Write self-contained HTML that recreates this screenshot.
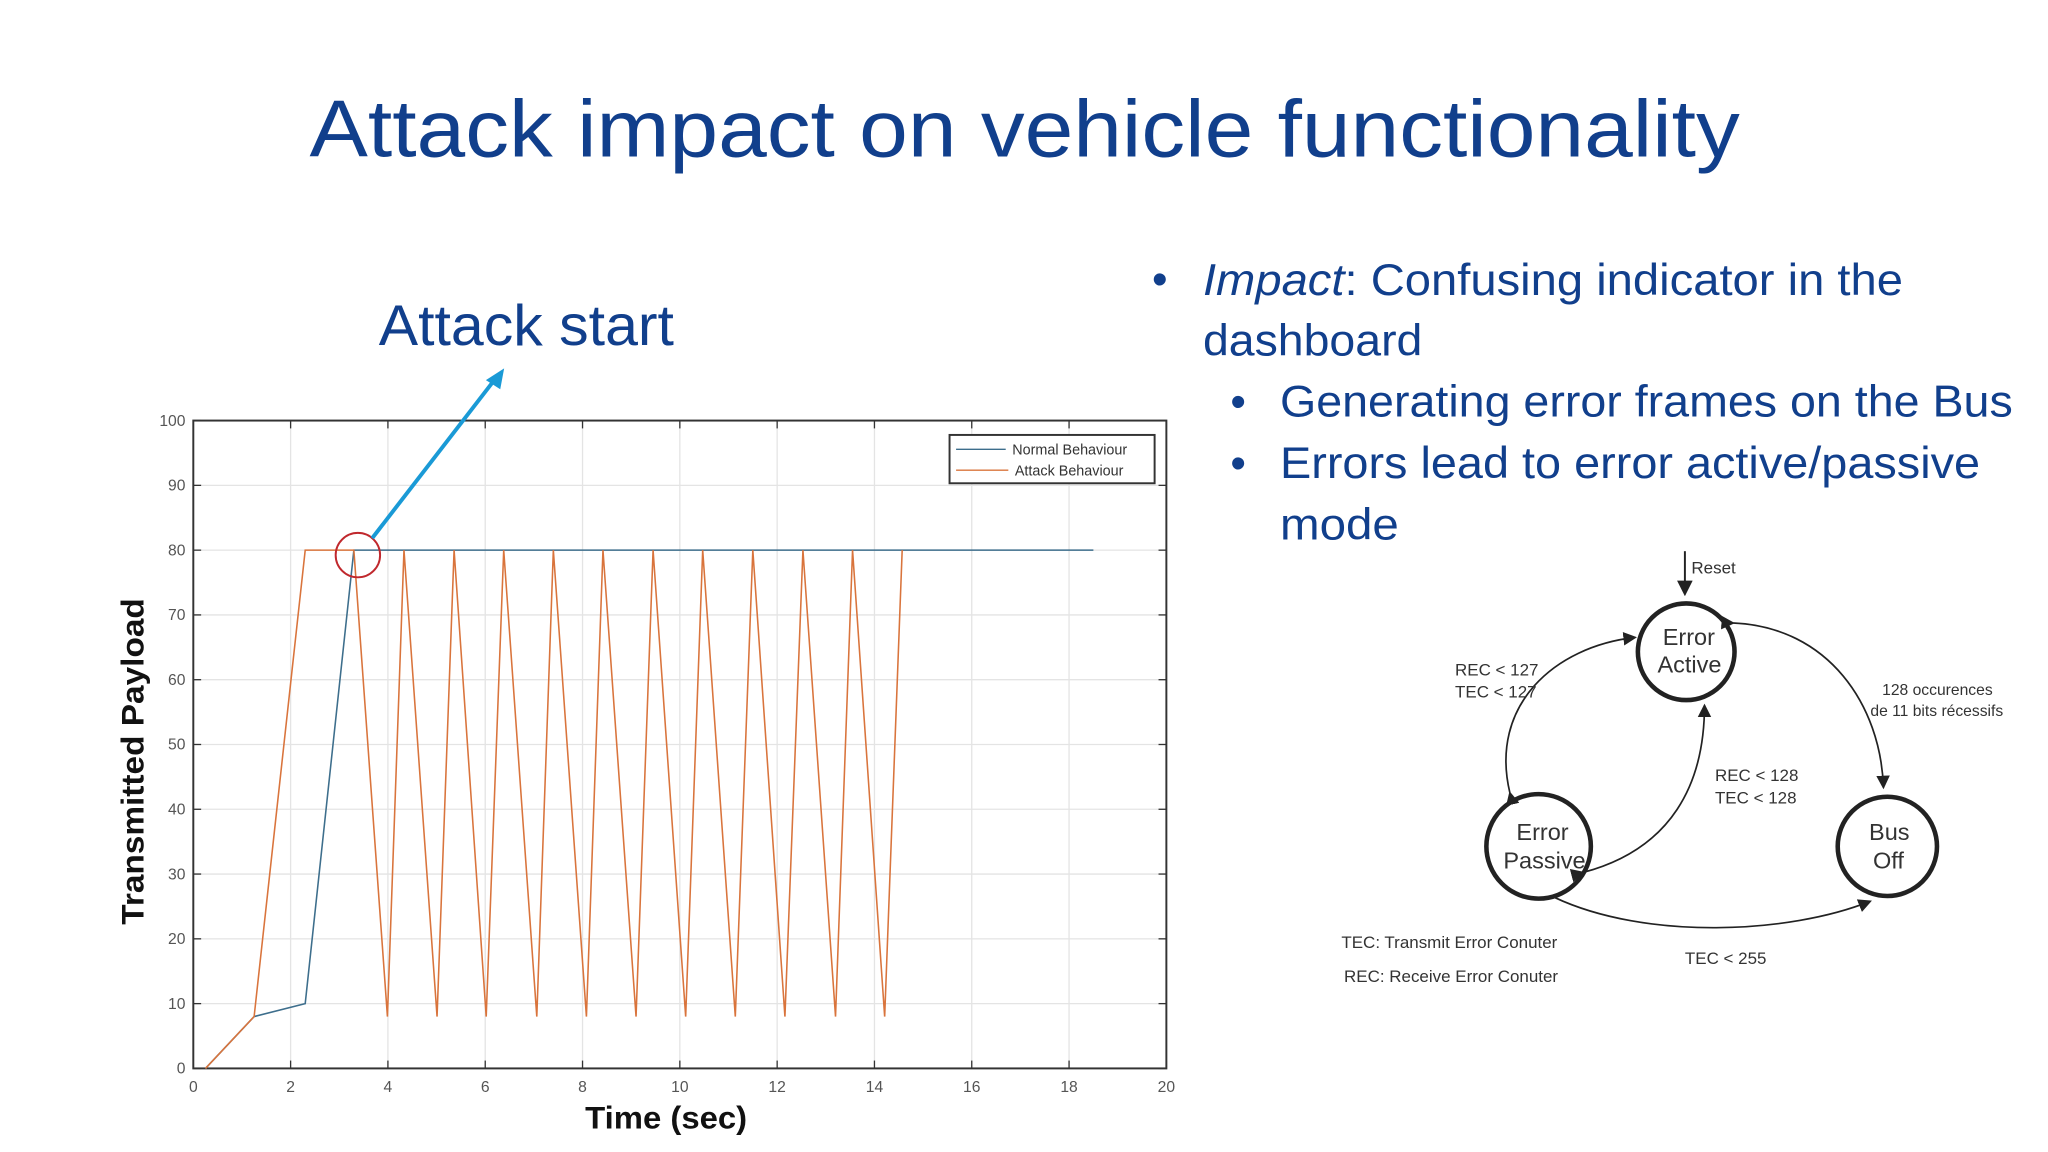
<!DOCTYPE html>
<html><head><meta charset="utf-8"><style>
html,body{margin:0;padding:0;background:#fff;width:2048px;height:1152px;overflow:hidden}
svg{display:block}
text{font-family:"Liberation Sans",sans-serif}
</style></head><body>
<svg id="s" width="2048" height="1152" viewBox="0 0 1568 882" xmlns="http://www.w3.org/2000/svg">
<rect width="1568" height="882" fill="#fff"/>
<text x="237" y="120" font-size="62" fill="#113f8c" textLength="1095" lengthAdjust="spacingAndGlyphs">Attack impact on vehicle functionality</text>
<text x="290" y="264" font-size="44" fill="#113f8c" textLength="226" lengthAdjust="spacingAndGlyphs">Attack start</text>
<g fill="#113f8c" font-size="34">
<text x="882" y="225">•</text>
<text x="921" y="226" textLength="536" lengthAdjust="spacingAndGlyphs"><tspan font-style="italic">Impact</tspan>: Confusing indicator in the</text>
<text x="921" y="272" textLength="168" lengthAdjust="spacingAndGlyphs">dashboard</text>
<text x="942" y="319">•</text>
<text x="980" y="319" textLength="561" lengthAdjust="spacingAndGlyphs">Generating error frames on the Bus</text>
<text x="942" y="366">•</text>
<text x="980" y="366" textLength="536" lengthAdjust="spacingAndGlyphs">Errors lead to error active/passive</text>
<text x="980" y="413" textLength="91" lengthAdjust="spacingAndGlyphs">mode</text>
</g>
<g id="chart"></g>
<g id="diagram" fill="none" stroke="#222">
<defs><marker id="ah" markerWidth="8" markerHeight="8" refX="7" refY="4" orient="auto"><path d="M0,0L8,4L0,8z" fill="#222" stroke="none"/></marker></defs>
<line x1="1290" y1="422" x2="1290" y2="455" stroke-width="1.5" marker-end="url(#ah)"/>
<circle cx="1291" cy="499" r="37" stroke-width="3.5"/>
<circle cx="1178" cy="648" r="40" stroke-width="3.5"/>
<circle cx="1445" cy="648" r="38" stroke-width="3.5"/>
<path d="M1156,607 C1140,540 1190,495 1252,488" stroke-width="1.3" marker-end="url(#ah)" marker-start="url(#ah)"/>
<path d="M1212,668 C1280,650 1305,600 1305,540" stroke-width="1.3" marker-end="url(#ah)" marker-start="url(#ah)"/>
<path d="M1327,477 C1400,480 1440,540 1442,603" stroke-width="1.3" marker-end="url(#ah)" marker-start="url(#ah)"/>
<path d="M1190,687 C1260,720 1370,715 1432,690" stroke-width="1.3" marker-end="url(#ah)"/>
<g fill="#333" stroke="none" font-size="15">
<text x="1273" y="494" font-size="18">Error</text>
<text x="1269" y="515" font-size="18">Active</text>
<text x="1161" y="643" font-size="18">Error</text>
<text x="1151" y="665" font-size="18">Passive</text>
<text x="1431" y="643" font-size="18">Bus</text>
<text x="1434" y="665" font-size="18">Off</text>
<text x="1295" y="439" font-size="13">Reset</text>
<text x="1114" y="517" font-size="13">REC &lt; 127</text>
<text x="1114" y="534" font-size="13">TEC &lt; 127</text>
<text x="1313" y="598" font-size="13">REC &lt; 128</text>
<text x="1313" y="615" font-size="13">TEC &lt; 128</text>
<text x="1441" y="532" font-size="12">128 occurences</text>
<text x="1432" y="548" font-size="12">de 11 bits récessifs</text>
<text x="1290" y="738" font-size="13">TEC &lt; 255</text>
<text x="1027" y="726" font-size="13">TEC: Transmit Error Conuter</text>
<text x="1029" y="752" font-size="13">REC: Receive Error Conuter</text>
</g>
</g>
</svg>
<script>
const xTicks=[0,2,4,6,8,10,12,14,16,18,20];
const yTicks=[0,10,20,30,40,50,60,70,80,90,100];
const normalX=[0.25,1.25,2.3,3.3,18.5];
const normalY=[0,8,10,80,80];
const attackX=[0.25,1.25,2.3,3.3,3.99,4.33,5.01,5.36,6.02,6.38,7.06,7.4,8.08,8.42,9.1,9.45,10.12,10.47,11.14,11.5,12.16,12.53,13.2,13.55,14.21,14.57];
const attackY=[0,8,80,80,8,80,8,80,8,80,8,80,8,80,8,80,8,80,8,80,8,80,8,80,8,80];
const NS="http://www.w3.org/2000/svg";
const L=148,R=893,T=322,B=818;
const sx=v=>L+(v-0)/20*(R-L);
const sy=v=>B-(v-0)/100*(B-T);
const g=document.getElementById('chart');
function mk(tag,at,parent){const e=document.createElementNS(NS,tag);for(const k in at)e.setAttribute(k,at[k]);(parent||g).appendChild(e);return e;}
let e=mk('rect',{x:L,y:T,width:R-L,height:B-T,fill:'#fff',stroke:'none'});


xTicks.forEach(t=>{
 let l=mk('line',{x1:sx(t),x2:sx(t),y1:T,y2:B,stroke:'#e4e4e4','stroke-width':1});
 
 
 mk('line',{x1:sx(t),x2:sx(t),y1:B,y2:B-6,stroke:'#333'});
 mk('line',{x1:sx(t),x2:sx(t),y1:T,y2:T+6,stroke:'#333'});
 let tx=mk('text',{x:sx(t),y:B+18,'font-size':12,fill:'#555','text-anchor':'middle'});
 tx.textContent=t;
 
 
});
yTicks.forEach(t=>{
 let l=mk('line',{x1:L,x2:R,y1:sy(t),y2:sy(t),stroke:'#e4e4e4','stroke-width':1});
 
 
 mk('line',{x1:L,x2:L+6,y1:sy(t),y2:sy(t),stroke:'#333'});
 mk('line',{x1:R,x2:R-6,y1:sy(t),y2:sy(t),stroke:'#333'});
 let tx=mk('text',{x:L-6,y:sy(t)+4,'font-size':12,fill:'#555','text-anchor':'end'});
 tx.textContent=t;
 
 
});
e=mk('rect',{x:L,y:T,width:R-L,height:B-T,fill:'none',stroke:'#333','stroke-width':1.5});


e=mk('polyline',{points:normalX.map((x,i)=>sx(x)+','+sy(normalY[i])).join(' '),fill:'none',stroke:'#3d6e8c','stroke-width':1.2});


e=mk('polyline',{points:attackX.map((x,i)=>sx(x)+','+sy(attackY[i])).join(' '),fill:'none',stroke:'#d9743c','stroke-width':1.2});


e=mk('rect',{x:727,y:333,width:157,height:37,fill:'#fff',stroke:'#333','stroke-width':1.5});


mk('line',{x1:732,x2:770,y1:344,y2:344,stroke:'#3d6e8c'});
mk('line',{x1:732,x2:772,y1:360,y2:360,stroke:'#d9743c'});
e=mk('text',{x:775,y:348,'font-size':11,fill:'#333'});e.textContent='Normal Behaviour';


e=mk('text',{x:777,y:364,'font-size':11,fill:'#333'});e.textContent='Attack Behaviour';


e=mk('text',{x:510,y:864,'font-size':24,'font-weight':'bold',fill:'#111','text-anchor':'middle',textLength:124,lengthAdjust:'spacingAndGlyphs'});e.textContent='Time (sec)';


e=mk('text',{x:0,y:0,'font-size':24,'font-weight':'bold',fill:'#111','text-anchor':'middle',textLength:250,lengthAdjust:'spacingAndGlyphs',transform:'translate(110,583) rotate(-90)'});e.textContent='Transmitted Payload';


e=mk('circle',{cx:274,cy:425,r:17,fill:'none',stroke:'#c0282d','stroke-width':1.5});


e=mk('line',{x1:285,y1:412,x2:380,y2:289,stroke:'#1a9ad6','stroke-width':3});


mk('path',{d:'M386,282 L372,291 L383,298 Z',fill:'#1a9ad6'});
</script>
</body></html>
